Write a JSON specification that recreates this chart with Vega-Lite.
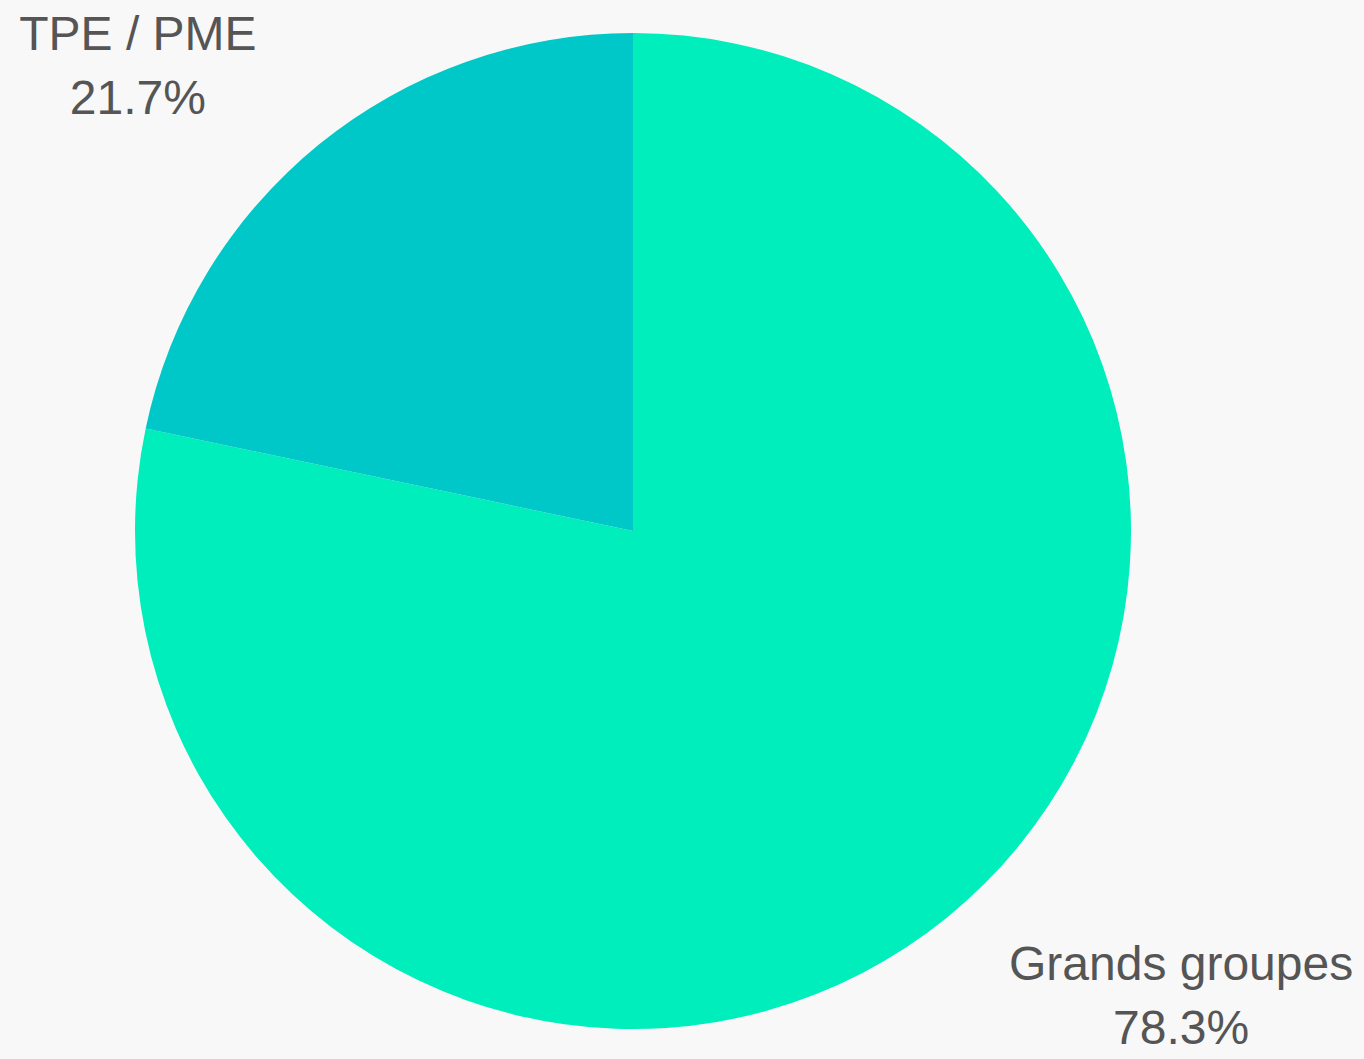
{
  "$schema": "https://vega.github.io/schema/vega-lite/v6.json",
  "width": 1266,
  "height": 1056,
  "autosize": "none",
  "padding": {"left": 0, "top": 3, "right": 98, "bottom": 0},
  "background": "#f8f8f8",
  "view": {"stroke": null},
  "data": {
    "values": [
      {"segment": "Grands groupes", "share": 78.3, "label": "Grands groupes\n78.3%"},
      {"segment": "TPE / PME", "share": 21.7, "label": "TPE / PME\n21.7%"}
    ]
  },
  "layer": [
    {
      "mark": {"type": "arc", "outerRadius": 498},
      "encoding": {
        "theta": {"field": "share", "type": "quantitative", "stack": true},
        "order": {"field": "segment", "type": "nominal"},
        "color": {
          "field": "segment",
          "type": "nominal",
          "scale": {"domain": ["Grands groupes", "TPE / PME"], "range": ["#00eebb", "#00c8c8"]},
          "legend": null
        }
      }
    },
    {
      "mark": {"type": "text", "radius": 600, "dx": 170, "dy": -17, "align": "center", "baseline": "alphabetic", "lineBreak": "\n", "lineHeight": 64, "font": "Liberation Sans", "fontSize": 48, "color": "#555555"},
      "encoding": {
        "theta": {"field": "share", "type": "quantitative", "stack": true},
        "order": {"field": "segment", "type": "nominal"},
        "text": {"field": "label", "type": "nominal"},
        "opacity": {"condition": {"test": "datum.segment === 'Grands groupes'", "value": 1}, "value": 0}
      }
    },
    {
      "mark": {"type": "text", "radius": 600, "dx": -117, "dy": -15, "align": "center", "baseline": "alphabetic", "lineBreak": "\n", "lineHeight": 64, "font": "Liberation Sans", "fontSize": 48, "color": "#555555"},
      "encoding": {
        "theta": {"field": "share", "type": "quantitative", "stack": true},
        "order": {"field": "segment", "type": "nominal"},
        "text": {"field": "label", "type": "nominal"},
        "opacity": {"condition": {"test": "datum.segment === 'TPE / PME'", "value": 1}, "value": 0}
      }
    }
  ]
}
